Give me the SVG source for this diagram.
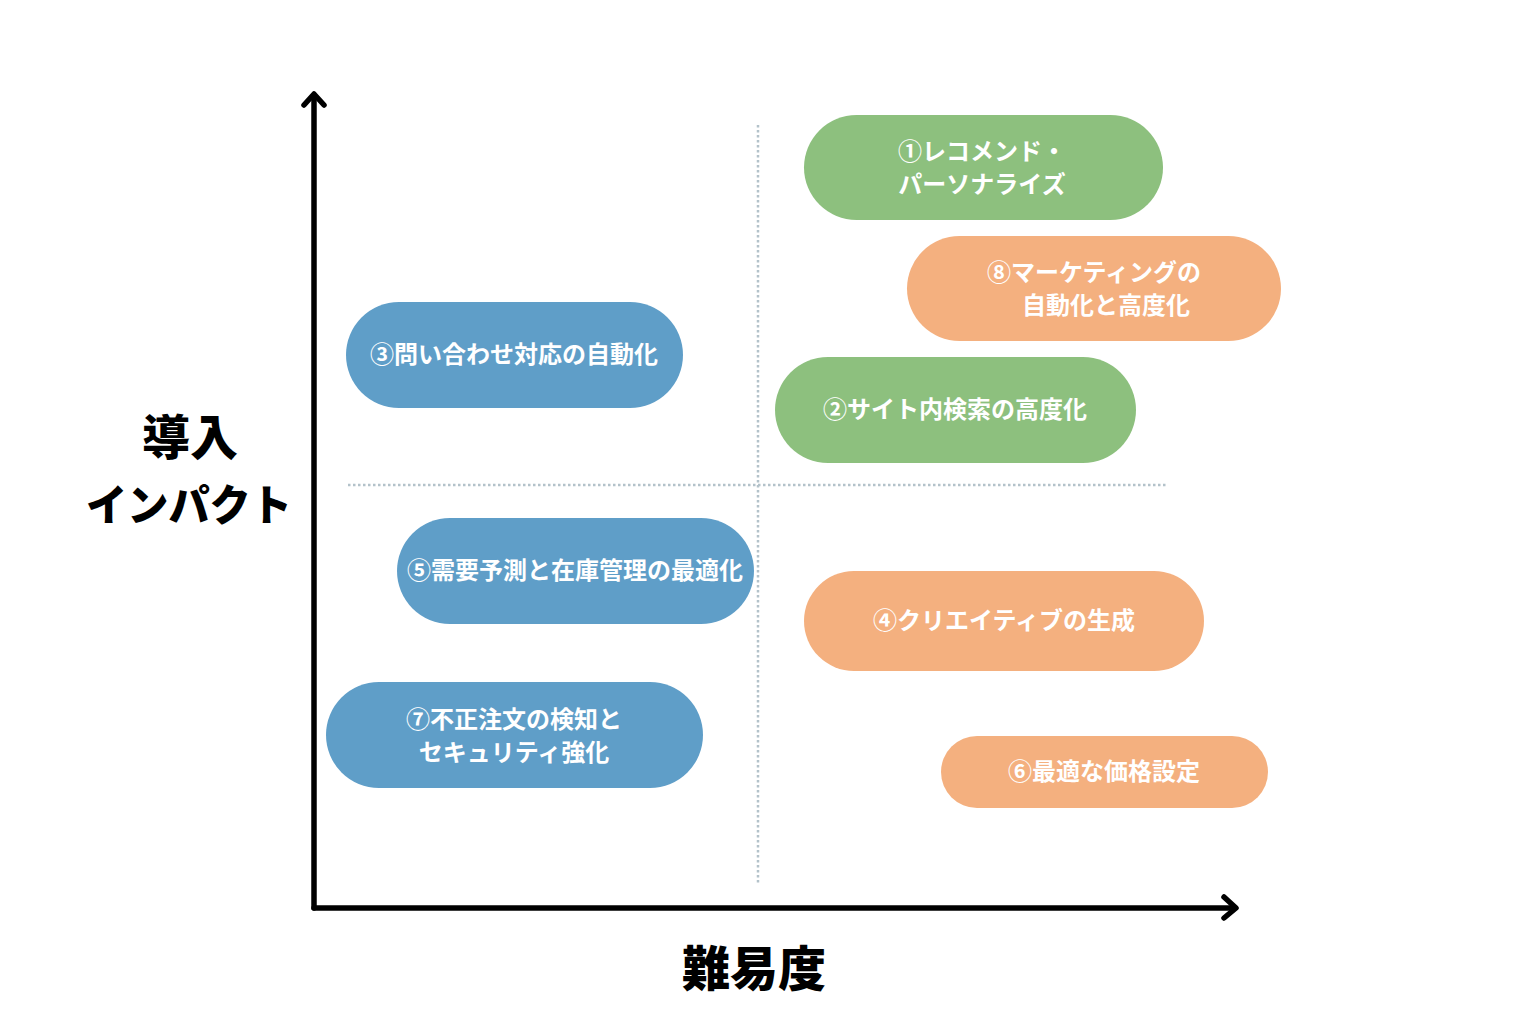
<svg xmlns="http://www.w3.org/2000/svg" width="1536" height="1024" viewBox="0 0 1536 1024">
<defs>
<style>
.lbl{font-family:"Noto Sans CJK JP","Noto Sans",sans-serif;font-weight:700;font-size:24px;fill:#ffffff;text-anchor:middle}
.ax{font-family:"Noto Sans CJK JP","Noto Sans",sans-serif;font-weight:900;fill:#000000;text-anchor:middle}
.green{fill:#8DC07E}
.orange{fill:#F4B07F}
.blue{fill:#5F9EC8}
.axis{stroke:#000;stroke-width:5.5;fill:none;stroke-linecap:round;stroke-linejoin:round}
.grid{stroke:#B3C2CA;stroke-width:2.5;fill:none;stroke-dasharray:2.5 2.5}
</style>
</defs>
<rect width="1536" height="1024" fill="#ffffff"/>
<g id="grid">
<line class="grid" x1="758" y1="125" x2="758" y2="885"/>
<line class="grid" x1="348" y1="485" x2="1168" y2="485"/>
</g>
<g id="connectors">
<line class="axis" x1="314" y1="96" x2="314" y2="908"/>
<polyline class="axis" points="304,105 314,94 324,105"/>
<line class="axis" x1="314" y1="908" x2="1234" y2="908"/>
<polyline class="axis" points="1224,897 1236,908 1224,918"/>
</g>
<g id="axis-y-label">
<text class="ax" x="190" y="455" font-size="48">導入</text>
<text class="ax" x="189" y="521" font-size="43" textLength="206" lengthAdjust="spacingAndGlyphs">インパクト</text>
</g>
<g id="axis-x-label">
<text class="ax" x="754" y="986" font-size="48">難易度</text>
</g>
<g id="node1">
<rect class="green" x="804" y="115" width="359" height="105" rx="52.5"/>
<text class="lbl" x="982" y="160">①レコメンド・</text>
<text class="lbl" x="982" y="193">パーソナライズ</text>
</g>
<g id="node8">
<rect class="orange" x="907" y="236" width="374" height="105" rx="52.5"/>
<text class="lbl" x="1094" y="281">⑧マーケティングの</text>
<text class="lbl" x="1106" y="314">自動化と高度化</text>
</g>
<g id="node2">
<rect class="green" x="775" y="357" width="361" height="106" rx="53"/>
<text class="lbl" x="955" y="418">②サイト内検索の高度化</text>
</g>
<g id="node3">
<rect class="blue" x="346" y="302" width="337" height="106" rx="53"/>
<text class="lbl" x="514" y="363">③問い合わせ対応の自動化</text>
</g>
<g id="node5">
<rect class="blue" x="397" y="518" width="357" height="106" rx="53"/>
<text class="lbl" x="575" y="579">⑤需要予測と在庫管理の最適化</text>
</g>
<g id="node4">
<rect class="orange" x="804" y="571" width="400" height="100" rx="50"/>
<text class="lbl" x="1004" y="629">④クリエイティブの生成</text>
</g>
<g id="node7">
<rect class="blue" x="326" y="682" width="377" height="106" rx="53"/>
<text class="lbl" x="514" y="728">⑦不正注文の検知と</text>
<text class="lbl" x="514" y="761">セキュリティ強化</text>
</g>
<g id="node6">
<rect class="orange" x="941" y="736" width="327" height="72" rx="36"/>
<text class="lbl" x="1104" y="780">⑥最適な価格設定</text>
</g>
</svg>
